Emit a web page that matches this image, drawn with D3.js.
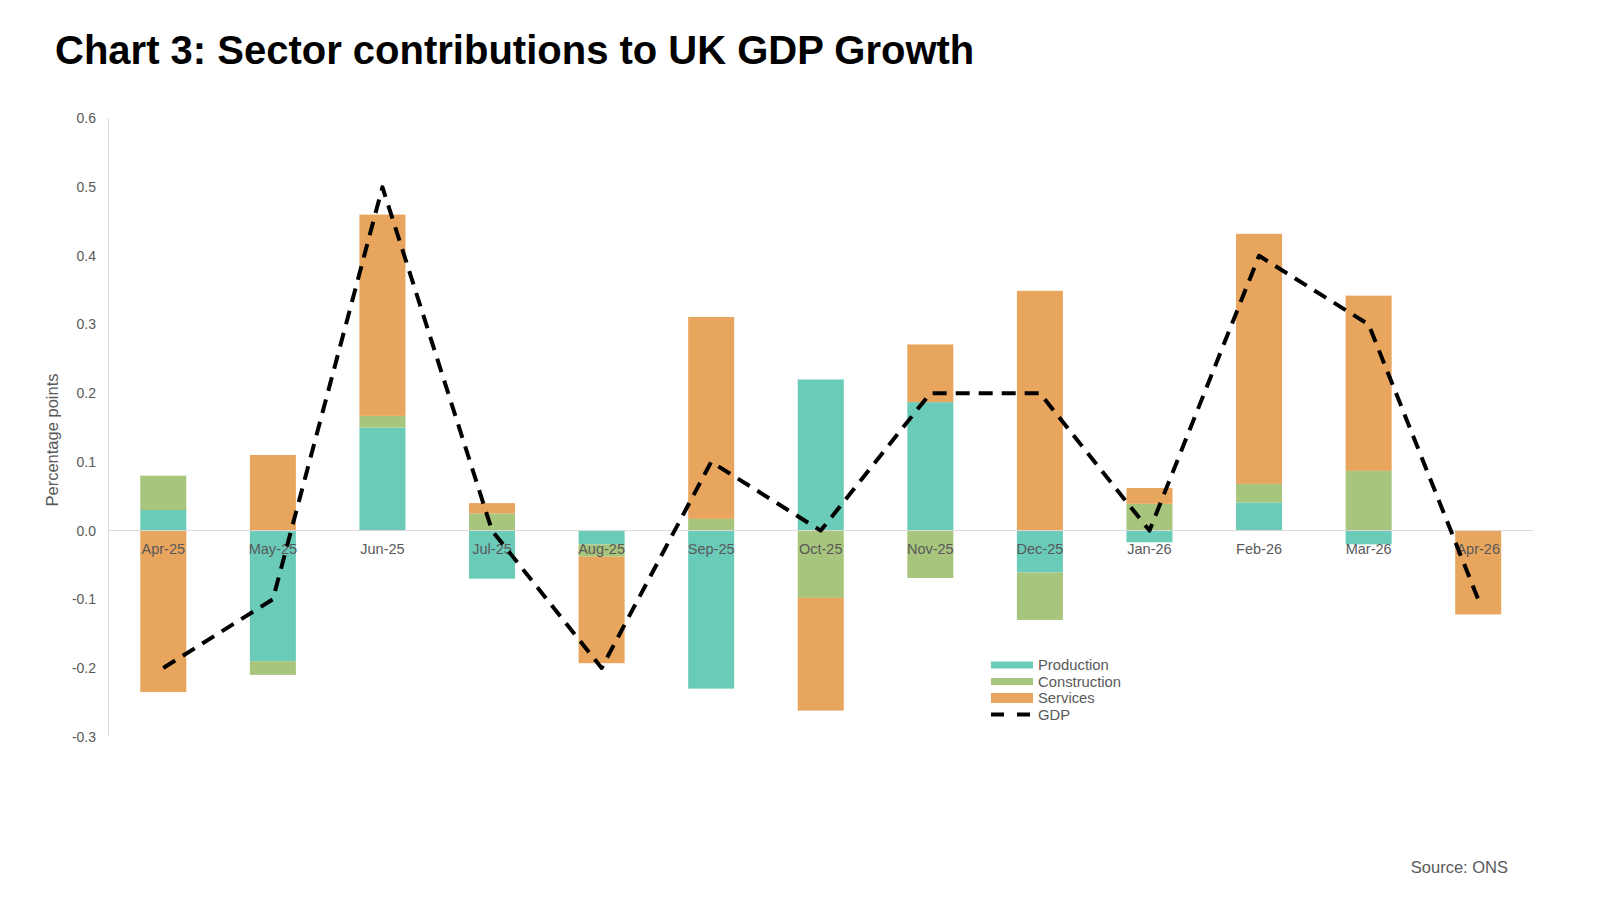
<!DOCTYPE html>
<html>
<head>
<meta charset="utf-8">
<script src="https://cdn.jsdelivr.net/npm/d3@7"></script>
<style>
  body { margin: 0; background: #fff; }
  svg { display: block; font-family: "Liberation Sans", Arial, sans-serif; }
</style>
</head>
<body>
<svg id="chart" width="1600" height="900"></svg>
<script>
// Monthly contributions, percentage points
const months = ['Apr-25', 'May-25', 'Jun-25', 'Jul-25', 'Aug-25', 'Sep-25', 'Oct-25',
                'Nov-25', 'Dec-25', 'Jan-26', 'Feb-26', 'Mar-26', 'Apr-26'];
const production   = [0.03, -0.19, 0.15, -0.07, -0.02, -0.23, 0.22, 0.187, -0.061, -0.017, 0.041, -0.02, 0.0];
const construction = [0.05, -0.02, 0.017, 0.025, -0.018, 0.017, -0.098, -0.069, -0.069, 0.039, 0.027, 0.087, 0.0];
const services     = [-0.235, 0.11, 0.293, 0.015, -0.155, 0.294, -0.164, 0.084, 0.349, 0.023, 0.364, 0.255, -0.122];
const gdp          = [-0.2, -0.1, 0.5, 0.0, -0.2, 0.1, 0.0, 0.2, 0.2, 0.0, 0.4, 0.3, -0.1];
const yTicks = [0.6, 0.5, 0.4, 0.3, 0.2, 0.1, 0.0, -0.1, -0.2, -0.3];

const SERIES = [
    { key: 'Production', values: production, color: '#6acbb9' },
    { key: 'Construction', values: construction, color: '#a8c57d' },
    { key: 'Services', values: services, color: '#e8a55d' }
];
const TEXT_GREY = '#595959';
const AXIS_GREY = '#d9d9d9';

const svg = d3.select('#chart');

const x = d3.scaleBand()
    .domain(months)
    .range([108.5, 1533])
    .paddingInner(0.58)
    .paddingOuter(0.29);

const y = d3.scaleLinear()
    .domain([-0.3, 0.6])
    .range([736.7, 118.4]);

// title
svg.append('text')
    .attr('x', 55)
    .attr('y', 64)
    .attr('font-size', 40)
    .attr('font-weight', 'bold')
    .attr('fill', '#000')
    .text('Chart 3: Sector contributions to UK GDP Growth');

// y axis line + labels
svg.append('line')
    .attr('x1', x.range()[0]).attr('x2', x.range()[0])
    .attr('y1', y(0.6)).attr('y2', y(-0.3))
    .attr('stroke', AXIS_GREY);

svg.append('g').selectAll('text')
    .data(yTicks)
    .join('text')
    .attr('x', 96)
    .attr('y', d => y(d))
    .attr('dy', '0.35em')
    .attr('text-anchor', 'end')
    .attr('font-size', 14)
    .attr('fill', TEXT_GREY)
    .text(d => d.toFixed(1));

svg.append('text')
    .attr('transform', 'translate(58,440) rotate(-90)')
    .attr('text-anchor', 'middle')
    .attr('font-size', 16.5)
    .attr('fill', TEXT_GREY)
    .text('Percentage points');

// stacked bars
const rows = months.map((m, i) => {
    const row = { month: m };
    SERIES.forEach(s => { row[s.key] = s.values[i]; });
    return row;
});
const stacked = d3.stack()
    .keys(SERIES.map(s => s.key))
    .offset(d3.stackOffsetDiverging)(rows);

svg.append('g').selectAll('g')
    .data(stacked)
    .join('g')
    .attr('fill', (d, i) => SERIES[i].color)
    .selectAll('rect')
    .data(d => d)
    .join('rect')
    .attr('x', d => x(d.data.month))
    .attr('width', x.bandwidth())
    .attr('y', d => y(Math.max(d[0], d[1])))
    .attr('height', d => Math.abs(y(d[0]) - y(d[1])));

// zero line
svg.append('line')
    .attr('x1', x.range()[0]).attr('x2', x.range()[1])
    .attr('y1', y(0)).attr('y2', y(0))
    .attr('stroke', AXIS_GREY);

// category labels sit on the zero line, over the bars
svg.append('g').selectAll('text')
    .data(months)
    .join('text')
    .attr('x', d => x(d) + x.bandwidth() / 2)
    .attr('y', y(0) + 18)
    .attr('dy', '0.35em')
    .attr('text-anchor', 'middle')
    .attr('font-size', 14.5)
    .attr('fill', TEXT_GREY)
    .text(d => d);

// GDP line
const line = d3.line()
    .x((d, i) => x(months[i]) + x.bandwidth() / 2)
    .y(d => y(d));

svg.append('path')
    .datum(gdp)
    .attr('d', line)
    .attr('fill', 'none')
    .attr('stroke', '#000')
    .attr('stroke-width', 4)
    .attr('stroke-dasharray', '14,9')
    .attr('stroke-linejoin', 'round');

// legend
const legend = svg.append('g').attr('transform', 'translate(991,665)');
const legendItems = SERIES.map(s => ({ key: s.key, color: s.color, h: s.key === 'Services' ? 10 : 7 }))
    .concat([{ key: 'GDP', dashed: true }]);

legendItems.forEach((d, i) => {
    const g = legend.append('g').attr('transform', `translate(0,${i * 16.5})`);
    if (d.dashed) {
        g.append('line')
            .attr('x1', 0).attr('x2', 42)
            .attr('stroke', '#000')
            .attr('stroke-width', 4)
            .attr('stroke-dasharray', '13,13');
    } else {
        g.append('rect')
            .attr('x', 0).attr('y', -d.h / 2)
            .attr('width', 42).attr('height', d.h)
            .attr('fill', d.color);
    }
    g.append('text')
        .attr('x', 47)
        .attr('dy', '0.35em')
        .attr('font-size', 14.8)
        .attr('fill', TEXT_GREY)
        .text(d.key);
});

// source note
svg.append('text')
    .attr('x', 1508)
    .attr('y', 873)
    .attr('text-anchor', 'end')
    .attr('font-size', 16.5)
    .attr('fill', TEXT_GREY)
    .text('Source: ONS');
</script>
</body>
</html>
